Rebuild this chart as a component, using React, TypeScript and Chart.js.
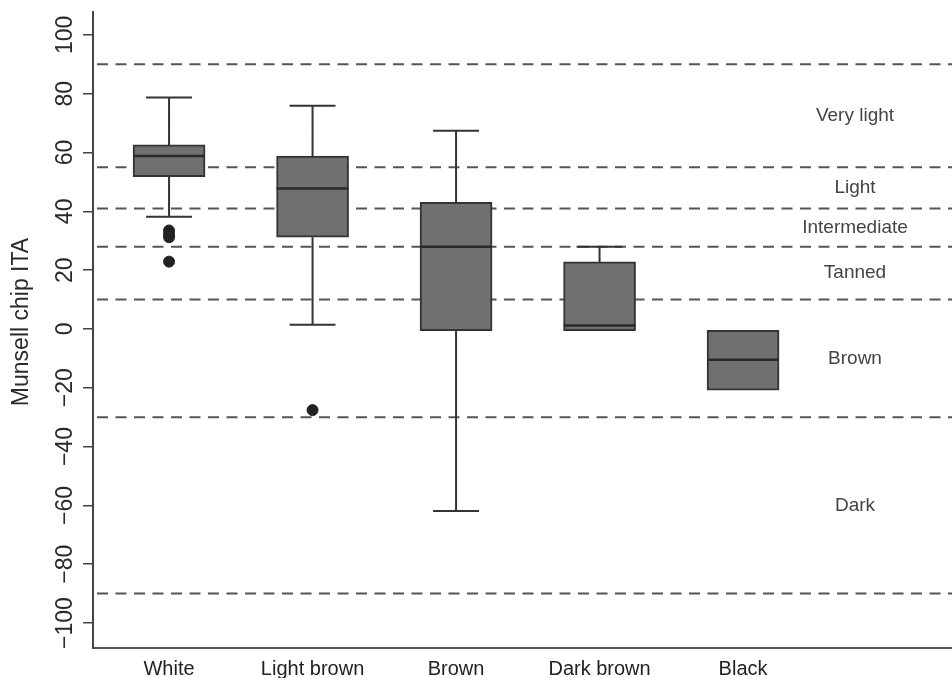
import React, { useEffect, useRef } from "react";
import { Chart, registerables } from "chart.js";

Chart.register(...registerables);

// ---- data ----
const categories = ["White", "Light brown", "Brown", "Dark brown", "Black"];
const whiskerHigh = [78.7, 75.9, 67.4, 28, -0.5];
const upperQuartile = [62.6, 58.8, 43.1, 22.8, -0.5];
const medianValues = [58.8, 47.8, 28, 1.2, -10.5];
const lowerQuartile = [51.8, 31.2, -0.6, -0.6, -20.8];
const whiskerLow = [38.2, 1.4, -61.9, -0.6, -20.8];
const outlierCategory = [0, 0, 0, 0, 1];
const outlierValues = [33.5, 32.2, 31.2, 22.9, -27.6];
const thresholds = [90, 55, 41, 28, 10, -30, -90];
const zoneNames = ["Very light", "Light", "Intermediate", "Tanned", "Brown", "Dark"];
const zoneLabelValues = [72.5, 48, 34.5, 19, -10, -60];
const yTickValues = [-100, -80, -60, -40, -20, 0, 20, 40, 60, 80, 100];
const yTitle = "Munsell chip ITA";

const FONT = '"Liberation Sans", Arial, Helvetica, sans-serif';
const X_MIN = -0.53;
const X_MAX = 5.456;
const ZONE_LABEL_X = 4.78;
const CAP_HALF = 0.16;
const BOX_HALF = 0.25;

function buildWhiskers() {
  const pts: any[] = [];
  categories.forEach((_, i) => {
    if (whiskerHigh[i] > upperQuartile[i]) {
      pts.push({ x: i, y: upperQuartile[i] }, { x: i, y: whiskerHigh[i] }, { x: i, y: null });
      pts.push({ x: i - CAP_HALF, y: whiskerHigh[i] }, { x: i + CAP_HALF, y: whiskerHigh[i] }, { x: i, y: null });
    }
    if (whiskerLow[i] < lowerQuartile[i]) {
      pts.push({ x: i, y: lowerQuartile[i] }, { x: i, y: whiskerLow[i] }, { x: i, y: null });
      pts.push({ x: i - CAP_HALF, y: whiskerLow[i] }, { x: i + CAP_HALF, y: whiskerLow[i] }, { x: i, y: null });
    }
  });
  return pts;
}

function buildMedians() {
  const pts: any[] = [];
  categories.forEach((_, i) => {
    pts.push({ x: i - BOX_HALF, y: medianValues[i] }, { x: i + BOX_HALF, y: medianValues[i] }, { x: i, y: null });
  });
  return pts;
}

const textPlugin = {
  id: "customTexts",
  afterDraw(chart: any) {
    const { ctx, scales } = chart;
    const xs = scales.x;
    const ys = scales.y;
    ctx.save();
    ctx.textAlign = "center";
    ctx.textBaseline = "middle";
    // y tick labels (rotated)
    ctx.fillStyle = "#2a2a2a";
    ctx.font = `23px ${FONT}`;
    yTickValues.forEach((v) => {
      const py = ys.getPixelForValue(v);
      ctx.save();
      ctx.translate(66, py);
      ctx.rotate(-Math.PI / 2);
      ctx.fillText(v < 0 ? "\u2212" + Math.abs(v) : String(v), 0, 0);
      ctx.restore();
    });
    // y title
    ctx.save();
    ctx.translate(22, 322);
    ctx.rotate(-Math.PI / 2);
    ctx.font = `23px ${FONT}`;
    ctx.fillText(yTitle, 0, 0);
    ctx.restore();
    // zone labels
    ctx.fillStyle = "#444";
    ctx.font = `19px ${FONT}`;
    zoneNames.forEach((name, i) => {
      ctx.fillText(name, xs.getPixelForValue(ZONE_LABEL_X), ys.getPixelForValue(zoneLabelValues[i]));
    });
    ctx.restore();
  },
};

export default function App() {
  const canvasRef = useRef<HTMLCanvasElement | null>(null);

  useEffect(() => {
    document.documentElement.style.overflow = "hidden";
    document.body.style.margin = "0";
    document.body.style.overflow = "hidden";
    const canvas = canvasRef.current;
    if (!canvas) return;

    const thresholdDatasets = thresholds.map((t) => ({
      type: "line" as const,
      data: [
        { x: X_MIN, y: t },
        { x: X_MAX, y: t },
      ],
      borderColor: "#555",
      borderWidth: 2,
      borderDash: [11, 7.5],
      borderDashOffset: 14.5,
      pointRadius: 0,
      order: 10,
    }));

    const chart = new Chart(canvas, {
      type: "bar",
      data: {
        datasets: [
          ...thresholdDatasets,
          {
            type: "line",
            data: buildWhiskers(),
            borderColor: "#333",
            borderWidth: 2,
            pointRadius: 0,
            spanGaps: false,
            order: 5,
          },
          {
            type: "bar",
            data: categories.map((_, i) => ({ x: i, y: [lowerQuartile[i], upperQuartile[i]] })),
            backgroundColor: "#707070",
            borderColor: "#333",
            borderWidth: 2,
            borderSkipped: false,
            barThickness: 72,
            order: 3,
          },
          {
            type: "line",
            data: buildMedians(),
            borderColor: "#2a2a2a",
            borderWidth: 2.5,
            pointRadius: 0,
            spanGaps: false,
            order: 1,
          },
          {
            type: "scatter",
            data: outlierValues.map((v, i) => ({ x: outlierCategory[i], y: v })),
            backgroundColor: "#222",
            borderColor: "#222",
            pointRadius: 5.5,
            order: 0,
          },
        ] as any,
      },
      options: {
        responsive: false,
        animation: false,
        layout: { autoPadding: false, padding: { top: 12, left: 0, right: 0, bottom: 0 } },
        plugins: {
          legend: { display: false },
          tooltip: { enabled: false },
        },
        scales: {
          x: {
            type: "linear",
            min: X_MIN,
            max: X_MAX,
            offset: false,
            afterBuildTicks: (scale: any) => {
              scale.ticks = categories.map((_, i) => ({ value: i }));
            },
            afterFit: (scale: any) => {
              scale.height = 30;
            },
            ticks: {
              autoSkip: false,
              maxRotation: 0,
              minRotation: 0,
              padding: 9,
              color: "#222",
              font: { family: FONT, size: 20 },
              callback: (v: any) => categories[v as number] ?? "",
            },
            grid: { display: true, drawOnChartArea: false, drawTicks: false, color: "rgba(0,0,0,0)" },
            border: { display: true, color: "#555", width: 2 },
          },
          y: {
            type: "linear",
            min: -108.5,
            max: 107.8,
            afterBuildTicks: (scale: any) => {
              scale.ticks = yTickValues.map((v) => ({ value: v }));
            },
            afterFit: (scale: any) => {
              scale.width = 93;
            },
            ticks: { display: false, includeBounds: false },
            grid: {
              display: true,
              drawOnChartArea: false,
              drawTicks: true,
              tickLength: 10,
              color: "#444",
              lineWidth: 1.5,
            },
            border: { display: true, color: "#444", width: 2 },
          },
        },
      },
      plugins: [textPlugin],
    } as any);

    return () => chart.destroy();
  }, []);

  return (
    <div style={{ position: "fixed", left: 0, top: 0, width: 952, height: 678 }}>
      <canvas ref={canvasRef} width={952} height={678} style={{ display: "block" }} />
    </div>
  );
}
